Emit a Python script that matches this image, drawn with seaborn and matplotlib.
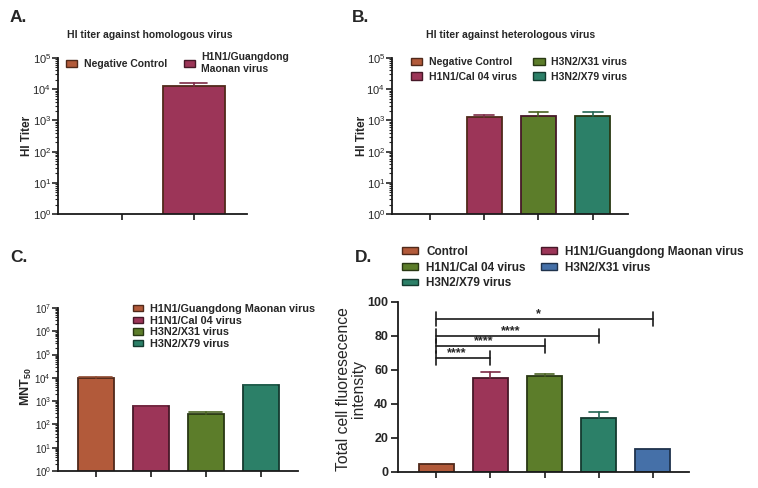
import numpy as np
import matplotlib
matplotlib.use("Agg")
import matplotlib.pyplot as plt
import seaborn as sns
from matplotlib.patches import Patch
from matplotlib.colors import to_rgb
from matplotlib import font_manager
from matplotlib.ticker import FixedLocator, NullFormatter, NullLocator, LogFormatterSciNotation

# ---------------- data ----------------
a_cats = ["Negative Control", "H1N1/Guangdong\nMaonan virus"]
a_vals = [np.nan, 13000]
a_err = [0, 2900]

b_cats = ["Negative Control", "H1N1/Cal 04 virus", "H3N2/X31 virus", "H3N2/X79 virus"]
b_vals = [np.nan, 1240, 1400, 1370]
b_err = [0, 260, 460, 430]

c_cats = ["H1N1/Guangdong Maonan virus", "H1N1/Cal 04 virus", "H3N2/X31 virus", "H3N2/X79 virus"]
c_vals = [10000, 590, 290, 4700]
c_err = [700, 40, 40, 400]

d_cats = ["Control", "H1N1/Guangdong Maonan virus", "H1N1/Cal 04 virus",
          "H3N2/X79 virus", "H3N2/X31 virus"]
d_vals = [4.5, 55.4, 56.4, 32.0, 13.5]
d_err = [0, 3.4, 1.4, 3.2, 0]
d_sig_pairs = [(0, 1), (0, 2), (0, 3), (0, 4)]
d_sig_y = [67, 74, 80, 90]
d_sig_labels = ["****", "****", "****", "*"]

# ---------------- style ----------------
ORANGE = "#B25A3A"
CRIMSON = "#9C3558"
OLIVE = "#5C7D2A"
TEAL = "#2C8068"
BLUE = "#4570A8"

sns.set_style("ticks")
names = {f.name for f in font_manager.fontManager.ttflist}
NARROW = "Liberation Sans Narrow" if "Liberation Sans Narrow" in names else "Liberation Sans"
plt.rcParams["font.family"] = ["Liberation Sans", "DejaVu Sans"]
plt.rcParams["mathtext.fontset"] = "custom"
plt.rcParams["mathtext.rm"] = NARROW + ":bold"
plt.rcParams["mathtext.it"] = NARROW + ":bold"
plt.rcParams["mathtext.bf"] = NARROW + ":bold"
plt.rcParams["axes.linewidth"] = 1.3
plt.rcParams["axes.edgecolor"] = "#1a1a1a"

W, H = 758, 488
fig = plt.figure(figsize=(W / 100, H / 100), dpi=100)


def px_axes(left, top, right, bottom):
    return fig.add_axes([left / W, 1 - bottom / H, (right - left) / W, (bottom - top) / H])


def dark(c, f=0.45):
    r, g, b = to_rgb(c)
    return (r * f, g * f, b * f)


def bars(ax, cats, vals, errs, colors, width, cap):
    sns.barplot(x=cats, y=vals, hue=cats, order=cats, hue_order=cats, palette=colors,
                ax=ax, width=width, legend=False, errorbar=None, saturation=1,
                linewidth=1.3)
    for p, c in zip(ax.patches, colors):
        p.set_edgecolor(dark(c))
    for i, (v, e, c) in enumerate(zip(vals, errs, colors)):
        if e and np.isfinite(v):
            ax.plot([i, i], [v, v + e], color=dark(c, 0.8), lw=1.2, zorder=1)
            ax.plot([i - cap, i + cap], [v + e, v + e], color=dark(c, 0.8), lw=1.2, zorder=1)
    sns.despine(ax=ax)
    ax.set_xlabel("")
    ax.set_xticklabels([])
    ax.xaxis.set_minor_locator(NullLocator())
    ax.tick_params(axis="x", length=4, width=1.2, color="#1a1a1a")


def log_axis(ax, top_exp, fs):
    ax.set_yscale("log")
    ax.set_ylim(1, 10 ** top_exp)
    ax.yaxis.set_major_locator(FixedLocator([10.0 ** k for k in range(top_exp + 1)]))
    ax.yaxis.set_major_formatter(LogFormatterSciNotation())
    ax.yaxis.set_minor_locator(FixedLocator([m * 10.0 ** k for k in range(top_exp)
                                             for m in range(2, 10)]))
    ax.yaxis.set_minor_formatter(NullFormatter())
    ax.tick_params(axis="y", which="major", length=4, width=1.2, labelsize=fs, pad=1)
    ax.tick_params(axis="y", which="minor", length=2, width=0.8)


def legend(ax, colors, labels, anchor, fs, ncol, **kw):
    handles = [Patch(facecolor=c, edgecolor=dark(c), linewidth=1.0) for c in colors]
    ax.legend(handles, labels, loc="upper left", ncol=ncol,
              bbox_to_anchor=(anchor[0] / W, 1 - anchor[1] / H), bbox_transform=fig.transFigure,
              frameon=False, borderpad=0, borderaxespad=0,
              prop={"family": "Liberation Sans", "weight": "bold", "size": fs}, **kw)


# ---------------- panel A ----------------
axA = px_axes(58, 58, 247, 214)
a_cols = [ORANGE, CRIMSON]
bars(axA, a_cats, a_vals, a_err, a_cols, 0.86, 0.19)
axA.set_xlim(-0.89, 1.74)
log_axis(axA, 5, 8)
axA.set_ylabel("HI Titer", fontsize=8.5, fontweight="bold")
axA.yaxis.set_label_coords(-0.13, 0.5)
legend(axA, a_cols, a_cats, (66, 52), 7.5, 2, handlelength=1.1, handleheight=0.7,
       handletextpad=0.6, columnspacing=1.6, labelspacing=0.1)
fig.text(150 / W, 1 - 35 / H, "HI titer against homologous virus", ha="center", va="center",
         fontsize=7.5, fontweight="bold", family=NARROW)

# ---------------- panel B ----------------
axB = px_axes(392, 58, 628, 214)
b_cols = [ORANGE, CRIMSON, OLIVE, TEAL]
bars(axB, b_cats, b_vals, b_err, b_cols, 0.65, 0.18)
axB.set_xlim(-0.7, 3.65)
log_axis(axB, 5, 8)
axB.set_ylabel("HI Titer", fontsize=8.5, fontweight="bold")
axB.yaxis.set_label_coords(-0.1, 0.5)
legend(axB, b_cols, b_cats, (411, 57), 7.5, 2, handlelength=1.1, handleheight=0.7,
       handletextpad=0.6, columnspacing=1.6, labelspacing=0.45)
fig.text(511 / W, 1 - 35 / H, "HI titer against heterologous virus", ha="center", va="center",
         fontsize=7.5, fontweight="bold", family=NARROW)

# ---------------- panel C ----------------
axC = px_axes(58, 308, 298, 471)
c_cols = [ORANGE, CRIMSON, OLIVE, TEAL]
bars(axC, c_cats, c_vals, c_err, c_cols, 0.65, 0.3)
axC.set_xlim(-0.69, 3.68)
log_axis(axC, 7, 7)
axC.set_ylabel("MNT$_{50}$", fontsize=9, fontweight="bold")
axC.yaxis.set_label_coords(-0.102, 0.52)
legend(axC, c_cols, c_cats, (133, 304), 7.8, 1, handlelength=0.95, handleheight=0.55,
       handletextpad=0.6, labelspacing=0.15)

# ---------------- panel D ----------------
axD = px_axes(398, 302, 689, 472)
d_cols = [ORANGE, CRIMSON, OLIVE, TEAL, BLUE]
bars(axD, d_cats, d_vals, d_err, d_cols, 0.65, 0.18)
axD.set_xlim(-0.71, 4.67)
axD.set_ylim(0, 100)
axD.set_yticks([0, 20, 40, 60, 80, 100])
axD.tick_params(axis="y", length=5, width=1.3, labelsize=9, pad=2)
for lab in axD.get_yticklabels():
    lab.set_fontweight("bold")
axD.set_ylabel("Total cell fluoresecence\nintensity", fontsize=11.3, linespacing=1.0)
axD.yaxis.set_label_coords(-0.111, 0.49)
for (i, j), y, s in zip(d_sig_pairs, d_sig_y, d_sig_labels):
    axD.plot([i, j], [y, y], color="#1a1a1a", lw=1.2)
    axD.plot([i, i], [y - 4, y + 4], color="#1a1a1a", lw=1.2)
    axD.plot([j, j], [y - 4, y + 4], color="#1a1a1a", lw=1.2)
    axD.text((i + j) / 2 - 0.12, y - 0.5, s, ha="center", va="bottom", fontsize=9,
             fontweight="bold")
order = [0, 2, 3, 1, 4]
legend(axD, [d_cols[k] for k in order], [d_cats[k] for k in order], (402, 246), 8.5, 2,
       handlelength=1.35, handleheight=0.5, handletextpad=0.7, columnspacing=1.3,
       labelspacing=0.3)

# ---------------- panel letters ----------------
for x, y, s in [(10, 18, "A."), (352, 18, "B."), (10, 258, "C."), (355, 258, "D.")]:
    fig.text(x / W, 1 - y / H, s, ha="left", va="center", fontsize=12.5, fontweight="bold")

fig.savefig("out.png", dpi=100)
